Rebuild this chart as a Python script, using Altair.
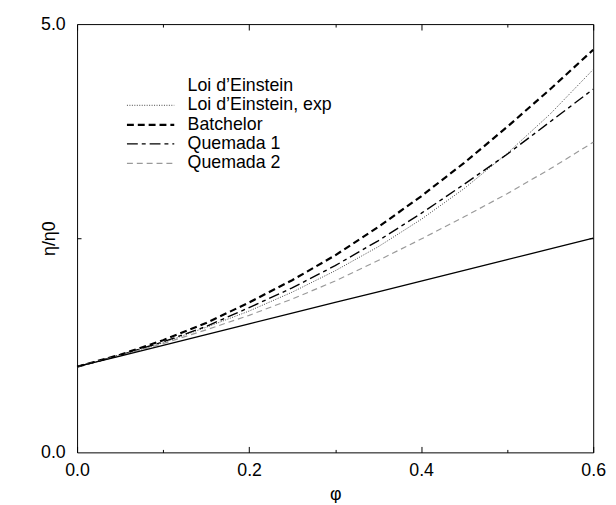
import altair as alt
import pandas as pd

# phi values (volume fraction) and read-off viscosity ratios
phi = [0.0, 0.05, 0.1, 0.15, 0.2, 0.25, 0.3, 0.35, 0.4, 0.45, 0.5, 0.55, 0.6]
einstein = [1.00, 1.125, 1.25, 1.375, 1.50, 1.625, 1.75, 1.875, 2.00, 2.125, 2.25, 2.375, 2.50]
einstein_exp = [1.00, 1.13, 1.28, 1.46, 1.65, 1.87, 2.12, 2.40, 2.72, 3.08, 3.49, 3.95, 4.47]
batchelor = [1.00, 1.14, 1.31, 1.51, 1.75, 2.01, 2.30, 2.63, 2.99, 3.38, 3.80, 4.24, 4.70]
quemada1 = [1.00, 1.135, 1.29, 1.47, 1.69, 1.92, 2.18, 2.47, 2.79, 3.13, 3.48, 3.86, 4.24]
quemada2 = [1.00, 1.13, 1.27, 1.43, 1.60, 1.79, 2.00, 2.24, 2.49, 2.75, 3.02, 3.31, 3.62]

series_names = ["Loi d\u2019Einstein", "Loi d\u2019Einstein, exp", "Batchelor", "Quemada 1", "Quemada 2"]
series_values = [einstein, einstein_exp, batchelor, quemada1, quemada2]

x_labels = [0.0, 0.2, 0.4, 0.6]
x_minor = [0.1, 0.3, 0.5]
y_labels = [0.0, 5.0]
y_minor = [2.5]

colors = ["black", "#444444", "black", "black", "#9a9a9a"]
dashes = [[1, 0], [1, 1.5], [7, 4], [11, 4, 4, 4], [6, 4]]
widths = [1.3, 1.0, 2.2, 1.4, 1.2]
opac = [0, 1, 1, 1, 1]

rows = []
for name, vals in zip(series_names, series_values):
    for p, v in zip(phi, vals):
        rows.append({"phi": p, "eta": v, "series": name})
df = pd.DataFrame(rows)

font = "Liberation Sans"
fs = 18
xscale = alt.Scale(domain=[0, 0.6], nice=False, zero=False)
yscale = alt.Scale(domain=[0, 5], nice=False)

leg = alt.Legend(
    orient="none", legendX=64.5, legendY=53.5, title=None,
    symbolType="M-2.82,0H2.82", symbolSize=289, labelFontSize=fs, labelFont=font,
    labelOffset=27.5, rowPadding=0.8, labelColor="black",
)

lines = alt.Chart(df).mark_line(strokeCap="butt").encode(
    x=alt.X("phi:Q", scale=xscale, axis=alt.Axis(
        orient="bottom", values=x_labels, format=".1f", ticks=False, domain=False, grid=False,
        labelFontSize=fs, labelFont=font, labelPadding=9, labelFlush=False, labelColor="black",
        title="\u03c6", titleFontSize=fs, titleFont=font, titleFontWeight="normal",
        titlePadding=7, titleColor="black")),
    y=alt.Y("eta:Q", scale=yscale, axis=alt.Axis(
        orient="left", values=y_labels, format=".1f", ticks=False, domain=False, grid=False,
        labelFontSize=fs, labelFont=font, labelPadding=12, labelColor="black",
        title="\u03b7/\u03b70", titleFontSize=fs, titleFont=font, titleFontWeight="normal",
        titleX=-28, titleY=217, titleBaseline="middle", titleColor="black")),
    color=alt.Color("series:N", scale=alt.Scale(domain=series_names, range=colors), legend=leg),
    strokeDash=alt.StrokeDash("series:N", scale=alt.Scale(domain=series_names, range=dashes), legend=leg),
    strokeWidth=alt.StrokeWidth("series:N", scale=alt.Scale(type="ordinal", domain=series_names, range=widths), legend=leg),
    opacity=alt.Opacity("series:N", scale=alt.Scale(type="ordinal", domain=series_names, range=opac), legend=leg),
)

solid = alt.Chart(df).transform_filter(
    alt.datum.series == series_names[0]
).mark_line(color="black", strokeWidth=1.3).encode(
    x=alt.X("phi:Q", scale=xscale, axis=None),
    y=alt.Y("eta:Q", scale=yscale, axis=None),
)


def tick_axis(orient, values, size):
    return alt.Axis(orient=orient, values=values, offset=-size, tickSize=size, labels=False,
                    domain=False, grid=False, title=None, tickColor="black", tickWidth=1)


def tick_layer(xaxis, yaxis):
    return alt.Chart(df).mark_point(opacity=0).encode(
        x=alt.X("phi:Q", scale=xscale, axis=xaxis),
        y=alt.Y("eta:Q", scale=yscale, axis=yaxis),
    )


t1 = tick_layer(tick_axis("bottom", x_labels, 6), tick_axis("left", y_minor, 4))
t2 = tick_layer(tick_axis("bottom", x_minor, 3), tick_axis("right", y_minor, 4))
t3 = tick_layer(tick_axis("top", x_labels, 6), None)
t4 = tick_layer(tick_axis("top", x_minor, 3), None)

chart = alt.layer(lines, solid, t1, t2, t3, t4).resolve_axis(
    x="independent", y="independent"
).properties(
    width=523, height=434,
    autosize=alt.AutoSizeParams(type="none"),
    padding={"left": 70, "top": 13, "right": 15, "bottom": 48},
    background="white",
).configure_view(stroke="black", strokeWidth=1)

chart.save("out.html", embed_options={"renderer": "svg", "actions": False})
